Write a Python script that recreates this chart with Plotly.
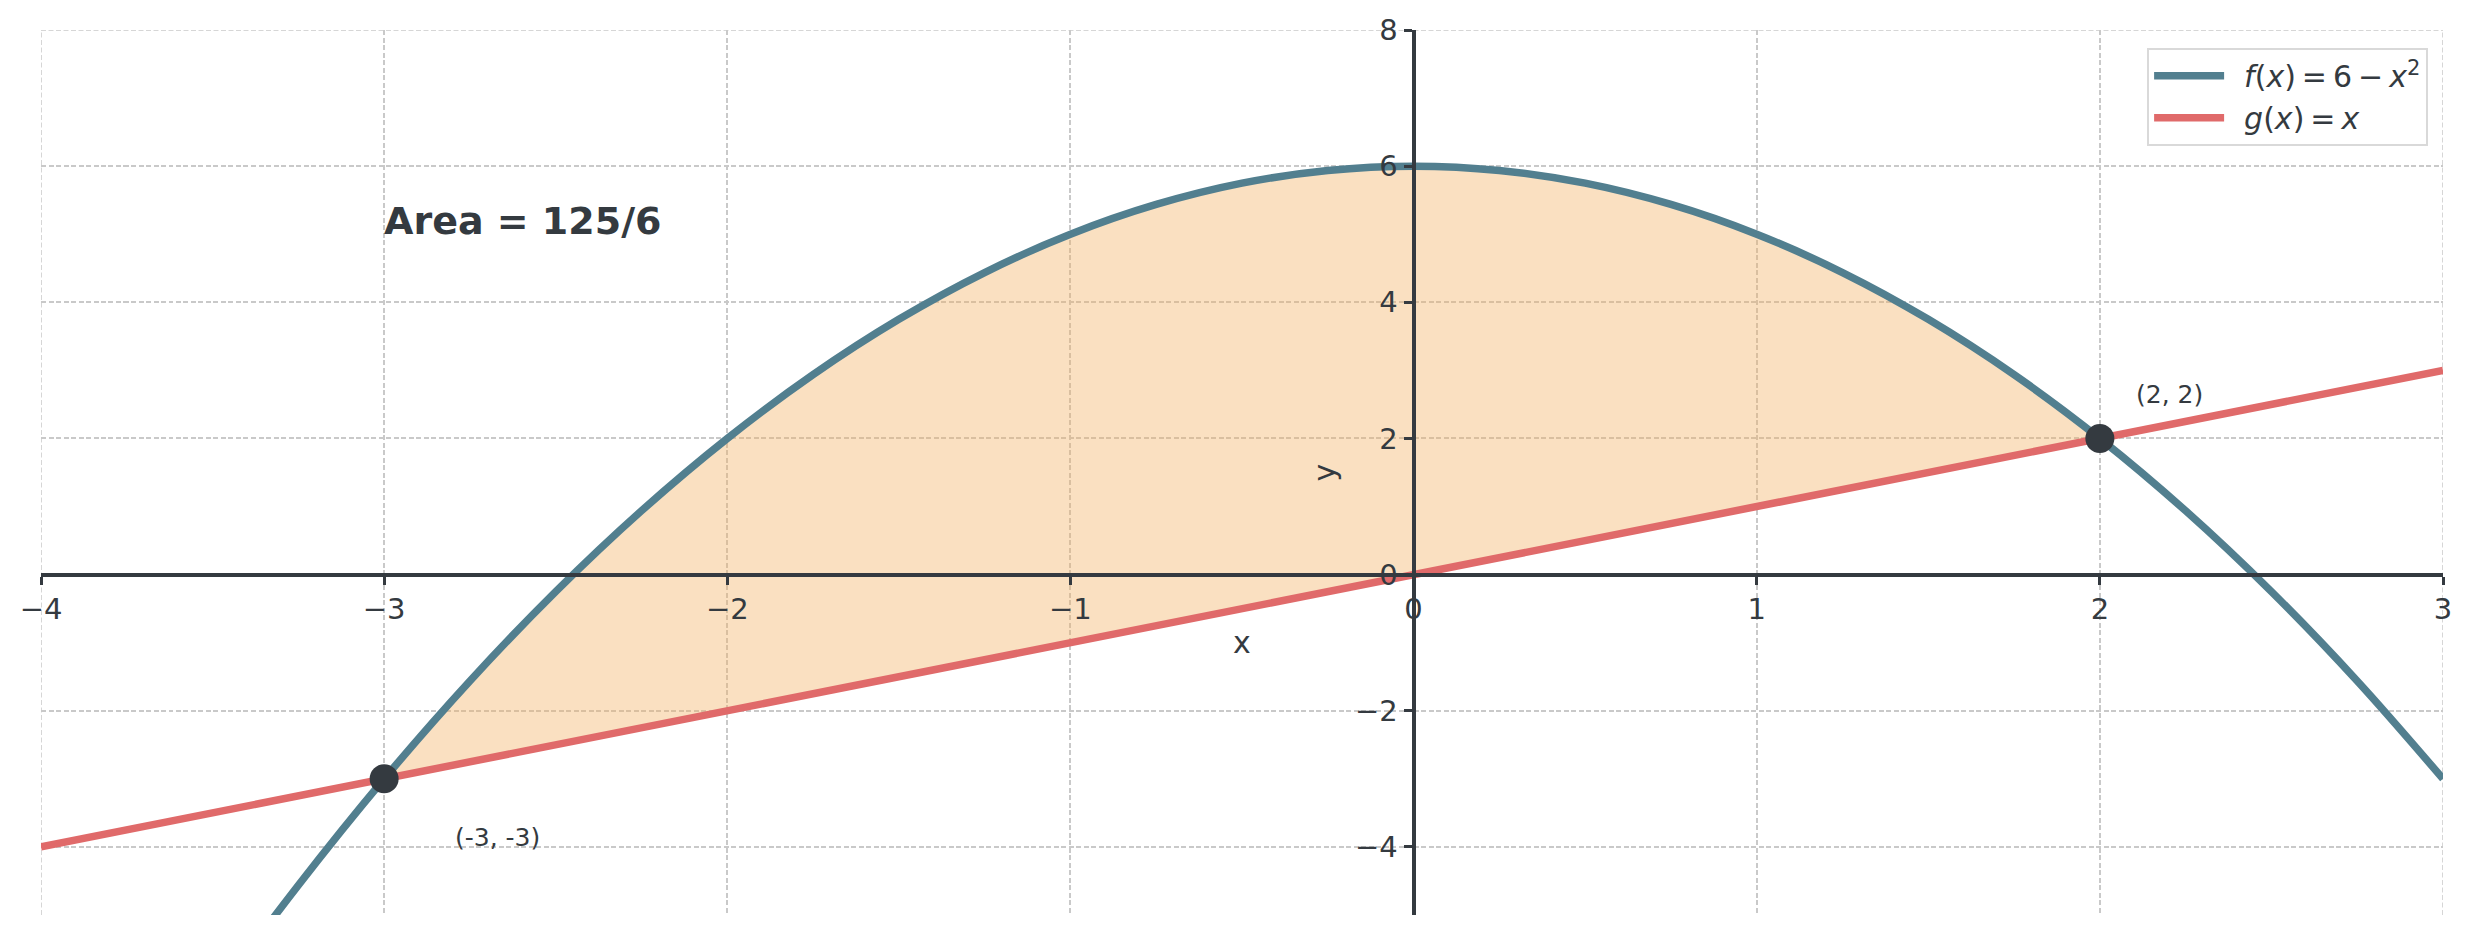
import plotly.graph_objects as go

# Sampled curve values (x from -4 to 3)
x_vals = [-4, -3.75, -3.5, -3.25, -3, -2.75, -2.5, -2.25, -2, -1.75, -1.5, -1.25, -1,
          -0.75, -0.5, -0.25, 0, 0.25, 0.5, 0.75, 1, 1.25, 1.5, 1.75, 2, 2.25, 2.5, 2.75, 3]
f_vals = [-10, -8.0625, -6.25, -4.5625, -3, -1.5625, -0.25, 0.9375, 2, 2.9375, 3.75, 4.4375, 5,
          5.4375, 5.75, 5.9375, 6, 5.9375, 5.75, 5.4375, 5, 4.4375, 3.75, 2.9375, 2, 0.9375, -0.25, -1.5625, -3]
g_vals = [-4, -3.75, -3.5, -3.25, -3, -2.75, -2.5, -2.25, -2, -1.75, -1.5, -1.25, -1,
          -0.75, -0.5, -0.25, 0, 0.25, 0.5, 0.75, 1, 1.25, 1.5, 1.75, 2, 2.25, 2.5, 2.75, 3]

# Intersection points
pts_x = [-3, 2]
pts_y = [-3, 2]
pt_labels = ["(-3, -3)", "(2, 2)"]

area_label = "Area = 125/6"

x_range = [-4, 3]
y_range = [-5, 8]
x_ticks = [-4, -3, -2, -1, 0, 1, 2, 3]
y_ticks = [-4, -2, 0, 2, 4, 6, 8]

DARK = "#343a40"
F_COL = "#527f8f"
G_COL = "#e06a6a"
FILL = "rgba(243,177,101,0.4)"
GRID = "#c9c9c9"
GRID_DASH = "5px,2.5px"
FONT = "DejaVu Sans"
TS = "\u2009"  # thin space, like mathtext spacing

# region between intersections
i0 = x_vals.index(pts_x[0])
i1 = x_vals.index(pts_x[1])
xs = x_vals[i0:i1 + 1]

fig = go.Figure()
fig.add_trace(go.Scatter(x=xs, y=g_vals[i0:i1 + 1], mode="lines",
                         line=dict(width=0, color=FILL), showlegend=False, hoverinfo="skip"))
fig.add_trace(go.Scatter(x=xs, y=f_vals[i0:i1 + 1], mode="lines", fill="tonexty",
                         fillcolor=FILL, line=dict(width=0, color=FILL, shape="spline"),
                         showlegend=False, hoverinfo="skip"))
fig.add_trace(go.Scatter(x=x_vals, y=f_vals, mode="lines", legendgroup="f",
                         line=dict(color=F_COL, width=7.5, shape="spline"),
                         name="\u2002<i>f</i>(<i>x</i>)" + TS + "=" + TS + "6" + TS + "−" + TS
                              + "<i>x</i><sup>2</sup>"))
fig.add_trace(go.Scatter(x=x_vals, y=g_vals, mode="lines", legendgroup="g",
                         line=dict(color=G_COL, width=7.5),
                         name="\u2002<i>g</i>(<i>x</i>)" + TS + "=" + TS + "<i>x</i>"))
fig.add_trace(go.Scatter(x=pts_x, y=pts_y, mode="markers",
                         marker=dict(color=DARK, size=29), showlegend=False, cliponaxis=False))

ann_font = dict(family=FONT, size=25, color=DARK)
fig.add_annotation(x=pts_x[0] + 0.2, y=pts_y[0] - 1, text=pt_labels[0], showarrow=False,
                   xanchor="left", yanchor="bottom", yshift=-7, font=ann_font)
fig.add_annotation(x=pts_x[1] + 0.1, y=pts_y[1] + 0.5, text=pt_labels[1], showarrow=False,
                   xanchor="left", yanchor="bottom", yshift=-7, font=ann_font)
fig.add_annotation(x=-3, y=5, text="<b>" + area_label + "</b>", showarrow=False,
                   xanchor="left", yanchor="bottom", yshift=-11, xshift=-2,
                   font=dict(family=FONT, size=38, color=DARK))

# dashed grid lines on the plot edges (plotly omits them there)
grid_edge = dict(color=GRID, width=1.5, dash=GRID_DASH)
fig.add_shape(type="line", xref="x", yref="y", x0=x_range[0], x1=x_range[0],
              y0=y_range[0], y1=y_range[1], line=grid_edge, layer="below")
fig.add_shape(type="line", xref="x", yref="y", x0=x_range[1], x1=x_range[1],
              y0=y_range[0], y1=y_range[1], line=grid_edge, layer="below")
fig.add_shape(type="line", xref="x", yref="y", x0=x_range[0], x1=x_range[1],
              y0=y_range[1], y1=y_range[1], line=grid_edge, layer="below")

axis_common = dict(
    showline=True, linecolor=DARK, linewidth=4,
    ticks="outside", ticklen=8, tickwidth=3, tickcolor=DARK,
    showgrid=True, gridcolor=GRID, gridwidth=1.5, griddash=GRID_DASH,
    zeroline=False, tickfont=dict(family=FONT, size=29, color=DARK),
    anchor="free", automargin=False,
)

# page body has an 8px default margin; size the figure so the plot area lands right
fig.update_layout(
    width=2463, height=926,
    margin=dict(l=33, r=28, t=22, b=19),
    paper_bgcolor="white", plot_bgcolor="white",
    template="none",
    font=dict(family=FONT, color=DARK),
    xaxis=dict(range=x_range, tickvals=x_ticks,
               position=(0 - y_range[0]) / (y_range[1] - y_range[0]),
               title=dict(text="x", font=dict(family=FONT, size=30, color=DARK), standoff=6),
               **axis_common),
    yaxis=dict(range=y_range, tickvals=y_ticks,
               position=(0 - x_range[0]) / (x_range[1] - x_range[0]),
               title=dict(text="y", font=dict(family=FONT, size=30, color=DARK), standoff=10),
               **axis_common),
    legend=dict(x=0.9938, y=0.98, xanchor="right", yanchor="top",
                bgcolor="white", bordercolor="#d9d9d9", borderwidth=2,
                font=dict(family=FONT, size=30, color=DARK), itemwidth=70,
                tracegroupgap=10, traceorder="normal"),
    showlegend=True,
)

fig.write_html("out.html")
